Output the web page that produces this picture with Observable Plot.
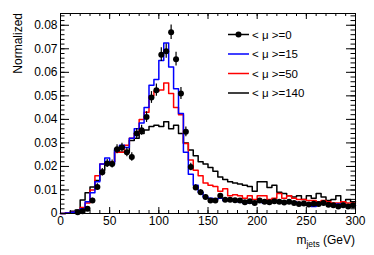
<!DOCTYPE html>
<html><head><meta charset="utf-8">
<script src="https://cdn.jsdelivr.net/npm/d3@7"></script>
<script src="https://cdn.jsdelivr.net/npm/@observablehq/plot@0.6"></script>
<style>body{margin:0;background:#fff}#chart{width:374px;height:255px}</style>
</head><body><div id="chart"></div>
<script>
const binWidth = 5;
const binLow = d3.range(0, 300, binWidth);
const mu0 = [0,0,0,0.0005,0.001,0.002,0.0055,0.0113,0.0175,0.0213,
  0.021,0.0273,0.028,0.026,0.024,0.034,0.0354,0.041,0.0493,0.0524,
  0.0675,0.069,0.077,0.0656,0.051,0.0347,0.0198,0.011,0.009,0.007,
  0.0055,0.0055,0.0075,0.0058,0.0058,0.0056,0.0055,0.0048,0.0052,0.0045,
  0.0055,0.005,0.0048,0.0052,0.005,0.0047,0.005,0.0045,0.004,0.0042,
  0.0038,0.0041,0.004,0.0045,0.0037,0.0035,0.003,0.0035,0.003,0.0035];
const mu0Err = [0,0,0,0.0003,0.0005,0.0007,0.001,0.0013,0.0016,0.0017,
  0.0017,0.0019,0.0019,0.0019,0.0018,0.0021,0.0021,0.0023,0.0025,0.0026,
  0.0029,0.003,0.0031,0.0029,0.0026,0.0021,0.0016,0.0012,0.0011,0.0009,
  0.0008,0.0008,0.0009,0.0008,0.0008,0.0008,0.0008,0.0007,0.0007,0.0007,
  0.0008,0.0007,0.0007,0.0007,0.0007,0.0007,0.0007,0.0007,0.0006,0.0006,
  0.0006,0.0006,0.0006,0.0007,0.0006,0.0006,0.0005,0.0006,0.0005,0.0006];
const mu15 = [0,0.0002,0.0005,0.001,0.002,0.005,0.0088,0.0135,0.021,0.0236,
  0.021,0.0275,0.029,0.028,0.032,0.036,0.0385,0.045,0.0545,0.057,
  0.065,0.0725,0.0623,0.053,0.0425,0.026,0.0167,0.012,0.009,0.007,
  0.0065,0.006,0.0065,0.0055,0.006,0.0055,0.005,0.0045,0.0045,0.005,
  0.005,0.0045,0.005,0.005,0.005,0.0045,0.0045,0.005,0.0045,0.004,
  0.0035,0.003,0.0045,0.004,0.004,0.0035,0.004,0.0035,0.003,0.0035];
const mu50 = [0,0.0002,0.0005,0.001,0.0025,0.0045,0.01,0.016,0.021,0.022,
  0.022,0.026,0.026,0.029,0.032,0.034,0.04,0.043,0.05,0.052,
  0.0525,0.0555,0.051,0.045,0.042,0.0297,0.0227,0.0184,0.016,0.013,
  0.012,0.0115,0.0095,0.0105,0.0075,0.008,0.0075,0.0065,0.0075,0.006,
  0.0075,0.0075,0.006,0.0065,0.0085,0.0065,0.0075,0.0065,0.006,0.006,
  0.0055,0.0055,0.005,0.0055,0.005,0.0045,0.0045,0.005,0.0045,0.0045];
const mu140 = [0,0.0003,0.001,0.0015,0.0057,0.0088,0.0113,0.014,0.0184,0.021,
  0.022,0.027,0.026,0.026,0.031,0.032,0.034,0.0355,0.037,0.0375,
  0.037,0.039,0.036,0.0375,0.034,0.03,0.027,0.0245,0.022,0.021,
  0.0195,0.018,0.0155,0.0145,0.0135,0.013,0.0125,0.012,0.0115,0.0095,
  0.0135,0.0135,0.011,0.012,0.009,0.0085,0.0075,0.007,0.0075,0.006,
  0.0075,0.0065,0.0085,0.007,0.0055,0.006,0.0075,0.005,0.006,0.005];
const seriesLabels = ["< \u03bc >=0", "< \u03bc >=15", "< \u03bc >=50", "< \u03bc >=140"];
const seriesColors = ["#000000", "#0000ff", "#ff0000", "#000000"];
const xMajorTicks = [0, 50, 100, 150, 200, 250, 300];
const yMajorTicks = [0, 0.01, 0.02, 0.03, 0.04, 0.05, 0.06, 0.07, 0.08];
const xLabel = ["m", "jets", " (GeV)"];
const yLabel = "Normalized";

const W = 374, H = 255, mL = 60, mR = 19, mT = 13, mB = 42;
const iw = W - mL - mR, ih = H - mT - mB;
const xMinor = d3.range(0, 301, 10);
const yMinor = d3.range(0, 0.0851, 0.002);

function steps(vals) {
  const s = binLow.map((x, i) => ({x, y: vals[i]}));
  s.push({x: binLow[binLow.length - 1] + binWidth, y: vals[vals.length - 1]});
  return s;
}
const pts = binLow.map((x, i) => ({x: x + binWidth / 2, y: mu0[i], e: mu0Err[i]})).filter(d => d.y > 0);

const font = "Liberation Sans, Arial, Helvetica, sans-serif";
const plot = Plot.plot({
  width: W, height: H,
  marginLeft: mL, marginRight: mR, marginTop: mT, marginBottom: mB,
  style: {fontFamily: font, fontSize: "12px", background: "#fff", color: "#000"},
  x: {domain: [0, 300]},
  y: {domain: [0, 0.085]},
  marks: [
    Plot.lineY(steps(mu140), {x: "x", y: "y", curve: "step-after", stroke: seriesColors[3], strokeWidth: 1.5}),
    Plot.lineY(steps(mu50), {x: "x", y: "y", curve: "step-after", stroke: seriesColors[2], strokeWidth: 1.5}),
    Plot.lineY(steps(mu15), {x: "x", y: "y", curve: "step-after", stroke: seriesColors[1], strokeWidth: 1.5}),
    Plot.ruleX(pts, {x: "x", y1: d => d.y - d.e, y2: d => d.y + d.e, stroke: "#000", strokeWidth: 1.2}),
    Plot.dot(pts, {x: "x", y: "y", r: 3, fill: "#000", stroke: "none"}),
    Plot.tickY(yMajorTicks, {y: d => d, insetRight: iw - 9, stroke: "#000"}),
    Plot.tickY(yMajorTicks, {y: d => d, insetLeft: iw - 9, stroke: "#000"}),
    Plot.tickY(yMinor, {y: d => d, insetRight: iw - 4.5, stroke: "#000"}),
    Plot.tickY(yMinor, {y: d => d, insetLeft: iw - 4.5, stroke: "#000"}),
    Plot.tickX(xMajorTicks, {x: d => d, insetTop: ih - 6, stroke: "#000"}),
    Plot.tickX(xMajorTicks, {x: d => d, insetBottom: ih - 6, stroke: "#000"}),
    Plot.tickX(xMinor, {x: d => d, insetTop: ih - 3, stroke: "#000"}),
    Plot.tickX(xMinor, {x: d => d, insetBottom: ih - 3, stroke: "#000"}),
    Plot.axisX({ticks: xMajorTicks, tickSize: 0, tickPadding: 3, label: null, fontSize: 12}),
    Plot.axisY({ticks: yMajorTicks, tickSize: 0, tickPadding: 3, label: null, fontSize: 12,
      tickFormat: d => d === 0 ? "0" : d.toFixed(2)}),
    Plot.frame({stroke: "#000", strokeWidth: 1})
  ]
});
document.getElementById("chart").appendChild(plot);

const svg = d3.select(plot);
// axis titles
svg.append("text").attr("transform", "translate(22,13) rotate(-90)")
  .attr("text-anchor", "end").attr("font-family", font).attr("font-size", 12).text(yLabel);
const xt = svg.append("text").attr("x", W - mR).attr("y", 244).attr("text-anchor", "end")
  .attr("font-family", font).attr("font-size", 12);
xt.append("tspan").text(xLabel[0]);
xt.append("tspan").attr("font-size", 8.5).attr("dy", 3).text(xLabel[1]);
xt.append("tspan").attr("dy", -3).text(xLabel[2]);

// legend
const rowY = [34.5, 54, 73.5, 93];
const lg = svg.append("g");
seriesLabels.forEach((lab, i) => {
  lg.append("line").attr("x1", 228).attr("x2", 249).attr("y1", rowY[i]).attr("y2", rowY[i])
    .attr("stroke", seriesColors[i]).attr("stroke-width", 1.5);
  if (i === 0) lg.append("circle").attr("cx", 238.5).attr("cy", rowY[i]).attr("r", 3).attr("fill", "#000");
  lg.append("text").attr("x", 252).attr("y", rowY[i]).attr("dy", "0.35em")
    .attr("text-anchor", "start")
    .attr("font-family", font).attr("font-size", 11.5).text(lab);
});
</script>
</body></html>
